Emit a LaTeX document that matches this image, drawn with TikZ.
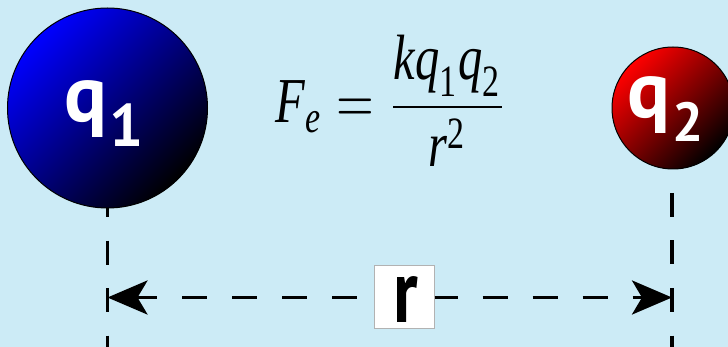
\documentclass[tikz,border=0pt]{standalone}
\usepackage{fontspec}
\usepackage{amsmath}
\usetikzlibrary{arrows.meta}
\newfontfamily\labfont{PT Sans}
\newfontfamily\rfont[FakeStretch=0.78]{PT Sans}
\newfontfamily\timfont{Liberation Serif}
\newcommand\ti[1]{\text{\timfont\itshape #1}}
\newcommand\tn[1]{\text{\timfont #1}}
\definecolor{bg}{RGB}{204,235,246}
\begin{document}
\begin{tikzpicture}[x=1pt,y=-1pt,
  ball/.style={circle,draw=black,line width=1pt,inner sep=0pt},
  qtxt/.style={text=white,font=\labfont\bfseries\fontsize{80}{80}\selectfont,inner sep=0pt,anchor=base west},
  vdash/.style={line width=3.5pt,dash pattern=on 24pt off 23.5pt},
  hdash/.style={line width=3.5pt,dash pattern=on 25pt off 25pt,-{Stealth[length=40pt,width=34pt,inset=10pt]}}]
\fill[bg] (0,0) rectangle (728,347);
\useasboundingbox (0,0) rectangle (728,347);
% charges
\node[ball,minimum size=200pt,top color=blue,middle color=blue!93!black,bottom color=black,shading angle=45] (c1) at (107.5,108) {};
\node[ball,minimum size=122pt,top color=red,middle color=red!90!black,bottom color=black,shading angle=45] (c2) at (673,108) {};
\node[qtxt] (q1) at (64,122) {q\kern2pt\raisebox{-25pt}{\fontsize{60}{60}\selectfont 1}};
\node[qtxt] (q2) at (627,118) {q\kern2pt\raisebox{-24pt}{\fontsize{55}{55}\selectfont 2}};
% formula
\node[xscale=4.85,yscale=6.4,inner sep=0pt] (fml) at (392,101)
  {$\displaystyle \ti{F}_{\ti{e}} = \frac{\ti{k}\ti{q}_{\tn{1}}\ti{q}_{\tn{2}}}{\ti{r}^{\tn{2}}}$};
% vertical guides
\coordinate (b1) at (107.5,347);
\coordinate (b2) at (672,347);
\draw[vdash,dash phase=15.4pt] (c1.south) -- (b1);
\draw[vdash,dash phase=24pt] (c2.south -| b2) -- (b2);
% distance
\coordinate (L) at (107.5,297.5);
\coordinate (R) at (672,297.5);
\node[draw=gray!60,fill=white,line width=1pt,minimum width=60pt,minimum height=62pt,inner sep=0pt,
  text height=52pt,text depth=0pt,font=\rfont\bfseries\fontsize{90}{90}\selectfont] (rb) at (404,297) {\kern3pt r};
\draw[hdash,dash phase=33pt] (rb.west |- L) -- (L);
\draw[hdash,dash phase=2pt] (rb.east |- R) -- (R);
\end{tikzpicture}
\end{document}
